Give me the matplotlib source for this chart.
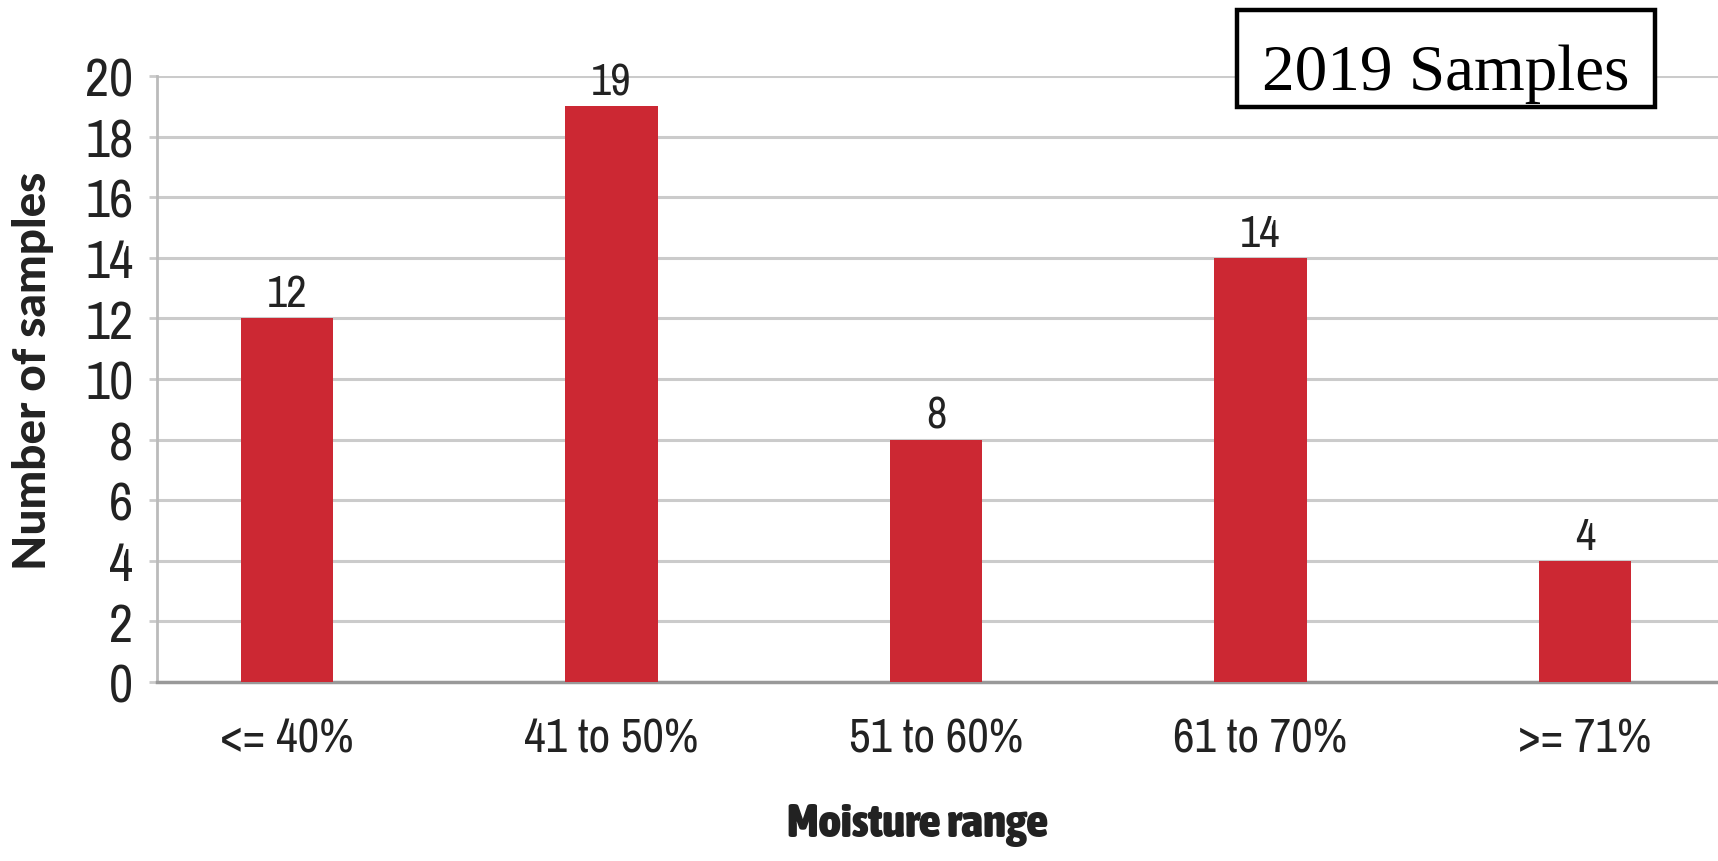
import matplotlib
matplotlib.use("Agg")
import matplotlib.pyplot as plt
from matplotlib import font_manager
from matplotlib.font_manager import FontProperties
from matplotlib.patches import Rectangle

categories = ["<= 40%", "41 to 50%", "51 to 60%", "61 to 70%", ">= 71%"]
counts = [12, 19, 8, 14, 4]
yticks = [0, 2, 4, 6, 8, 10, 12, 14, 16, 18, 20]


def _weight_num(w):
    if isinstance(w, int):
        return w
    table = {"ultralight": 200, "light": 300, "normal": 400, "regular": 400, "book": 400,
             "medium": 500, "semibold": 600, "demibold": 600, "bold": 700,
             "extra bold": 800, "heavy": 900, "black": 900}
    return table.get(str(w).lower(), 400)


def _is_narrow(f):
    return ("Narrow" in f.name or "Condensed" in f.name
            or str(f.stretch) in ("condensed", "semi-condensed", "extra-condensed"))


def light_narrow_font(size):
    """First installed narrow/condensed family, light-to-regular weight."""
    fonts = font_manager.fontManager.ttflist
    for key in ("Narrow", "Condensed"):
        for f in fonts:
            if key in f.name:
                return FontProperties(family=f.name, weight=350, size=size)
    return FontProperties(family="DejaVu Sans", size=size, stretch="condensed")


def heavy_narrow_font(size):
    """Heaviest installed condensed sans face."""
    faces = [f for f in font_manager.fontManager.ttflist
             if _is_narrow(f) and f.style == "normal"]
    if not faces:
        return FontProperties(family="DejaVu Sans", size=size, weight="bold")
    best = min(faces, key=lambda f: abs(_weight_num(f.weight) - 900))
    return FontProperties(fname=best.fname, size=size)


tick_fp = light_narrow_font(38)
xtick_fp = light_narrow_font(34)
value_fp = light_narrow_font(32)
xlabel_fp = heavy_narrow_font(34)
ylabel_fp = FontProperties(family=["Lato", "Open Sans", "DejaVu Sans"], weight=900, size=33)
serif = "Liberation Serif"

bar_color = "#CC2833"
grid_color = "#CBCBCB"
text_color = "#222222"

fig = plt.figure(figsize=(17.18, 8.62), dpi=100)
ax = fig.add_axes([0.0914, 0.2077, 0.9086, 0.703])

x = list(range(len(categories)))
bars = ax.bar(x, counts, width=0.285, color=bar_color, zorder=3)

ax.set_xlim(-0.40, 4.41)
ax.set_ylim(0, 20)
ax.set_yticks(yticks)
ax.set_xticks(x)
ax.set_xticklabels(categories, fontproperties=xtick_fp, color=text_color)
ax.set_yticklabels([str(v) for v in yticks], fontproperties=tick_fp, color=text_color)

ax.yaxis.grid(True, color=grid_color, linewidth=2.2, zorder=0)
ax.set_axisbelow(True)
ax.tick_params(axis="y", length=6, width=2, color=grid_color, pad=11)
ax.tick_params(axis="x", length=0, pad=25)

for side in ["top", "right"]:
    ax.spines[side].set_visible(False)
ax.spines["left"].set_color("#BBBBBB")
ax.spines["left"].set_linewidth(2)
ax.spines["bottom"].set_color("#999999")
ax.spines["bottom"].set_linewidth(2.5)

for b, v in zip(bars, counts):
    ax.annotate(str(v), (b.get_x() + b.get_width() / 2, v), xytext=(0, 3),
                textcoords="offset points", ha="center", va="bottom",
                fontproperties=value_fp, color=text_color)

ax.set_ylabel("Number of samples", fontproperties=ylabel_fp, color=text_color)
ax.yaxis.set_label_coords(-0.066, 0.515)
ax.set_xlabel("Moisture range", fontproperties=xlabel_fp, color=text_color)
ax.xaxis.set_label_coords(0.487, -0.195)

# framed caption in the top-right corner
fig.patches.append(Rectangle((0.7200, 0.8747), 0.2433, 0.1125, transform=fig.transFigure,
                             facecolor="white", edgecolor="black", linewidth=3.2,
                             zorder=5))
fig.text(0.8417, 0.8960, "2019 Samples", fontfamily=serif, fontsize=47,
         ha="center", va="baseline", color="black", zorder=6)

fig.savefig("out.png", dpi=100, facecolor="white")
